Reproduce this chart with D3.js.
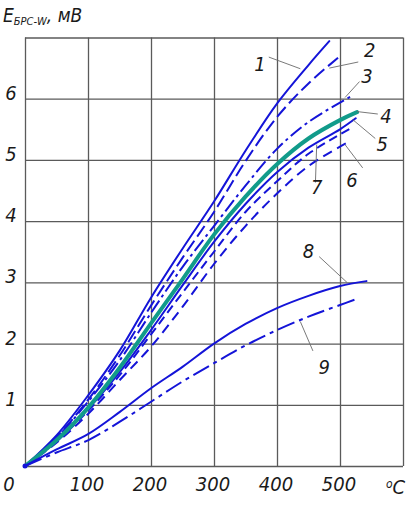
<!doctype html>
<html lang="ru">
	<head>
		<meta charset="utf-8">
		<title>E БРС-W</title>
		<script src="https://d3js.org/d3.v7.min.js"></script>
		<style>
			body { margin: 0; background: #fff; }
			text {
				font-family: 'Liberation Sans Narrow', 'DejaVu Sans Condensed', sans-serif;
				font-style: italic;
				fill: #1a1a1a;
			}
			.grid line, .grid path { stroke: #5a5a5a; stroke-width: 1.3; }
			.leader { stroke: #6a6a6a; stroke-width: 0.9; fill: none; }
		</style>
	</head>
	<body>
		<div id="chart"></div>
		<script>
			// temperature, degC
			let xTicks = [100, 200, 300, 400, 500]
			let yTicks = [1, 2, 3, 4, 5, 6]

			// curves: [T, E]
			let curve1 = [[0,0],[50,0.5],[100,1.15],[150,1.88],[200,2.75],[250,3.55],[300,4.32],[350,5.15],[400,5.92],[450,6.55],[483,6.94]]
			let curve2 = [[0,0],[50,0.47],[100,1.08],[150,1.8],[200,2.62],[250,3.4],[300,4.15],[350,4.98],[400,5.7],[450,6.25],[503,6.72]]
			let curve3 = [[0,0],[50,0.46],[100,1.05],[150,1.72],[200,2.5],[250,3.25],[300,3.92],[350,4.58],[400,5.18],[450,5.62],[516,6.03]]
			let curve4 = [[0,0],[50,0.42],[100,0.95],[150,1.6],[200,2.33],[250,3.05],[300,3.78],[350,4.4],[400,4.93],[450,5.35],[500,5.65],[527,5.78]]
			let curve5 = [[0,0],[50,0.42],[100,0.93],[150,1.53],[200,2.22],[250,2.95],[300,3.66],[350,4.28],[400,4.8],[450,5.2],[500,5.5],[525,5.68]]
			let curve6 = [[0,0],[50,0.38],[100,0.85],[150,1.4],[200,1.95],[250,2.6],[300,3.3],[350,3.92],[400,4.45],[450,4.9],[511,5.28]]
			let curve7 = [[0,0],[50,0.4],[100,0.9],[150,1.48],[200,2.15],[250,2.83],[300,3.5],[350,4.15],[400,4.65],[450,5.1],[521,5.54]]
			let curve8 = [[0,0],[50,0.27],[100,0.52],[150,0.88],[200,1.27],[250,1.62],[300,2.0],[350,2.32],[400,2.58],[450,2.78],[500,2.94],[542,3.02]]
			let curve9 = [[0,0],[50,0.22],[100,0.42],[150,0.72],[200,1.05],[250,1.38],[300,1.68],[350,1.97],[400,2.22],[450,2.44],[500,2.63],[527,2.73]]

			// curve number labels: text, label point [T, E], leader end on curve [T, E]
			let labelNames = ['1', '2', '3', '4', '5', '6', '7', '8', '9']
			let labelAt = [[373,6.45],[547,6.68],[543,6.25],[573,5.6],[567,5.15],[519,4.55],[463,4.45],[450,3.4],[475,1.5]]
			let leaderFrom = [[387,6.68],[529,6.6],[531,6.28],[560,5.75],[556,5.35],[536,4.87],[461,4.63],[467,3.42],[457,1.88]]
			let leaderTo = [[437,6.49],[483,6.5],[508,6.02],[527,5.79],[520,5.66],[508,5.25],[463,5.25],[511,3.0],[437,2.36]]

			let blue = '#1414d8'
			let teal = '#119b8a'

			let series = [
				{ data: curve1, color: blue, width: 2, dash: null },
				{ data: curve2, color: blue, width: 2, dash: '13,5' },
				{ data: curve3, color: blue, width: 2, dash: '14,4,3,4' },
				{ data: curve7, color: blue, width: 2, dash: '9,5' },
				{ data: curve6, color: blue, width: 2, dash: '10,6' },
				{ data: curve5, color: blue, width: 2, dash: null },
				{ data: curve4, color: teal, width: 4, dash: null },
				{ data: curve8, color: blue, width: 2, dash: null },
				{ data: curve9, color: blue, width: 2, dash: '18,5,4,5' },
			]

			let width = 410
			let height = 508

			let x = d3.scaleLinear().domain([0, 600]).range([25, 403])
			let y = d3.scaleLinear().domain([0, 7]).range([466, 37.5])

			let svg = d3.select('#chart')
				.append('svg')
				.attr('width', width)
				.attr('height', height)

			// grid + frame
			svg.append('g')
				.attr('class', 'grid')
				.attr('transform', `translate(0,${y(0)})`)
				.call(d3.axisBottom(x).tickValues([0, ...xTicks, 600]).tickSize(-(y(0) - y(7))).tickFormat(''))
				.call(g => g.select('.domain').remove())
			svg.append('g')
				.attr('class', 'grid')
				.attr('transform', `translate(${x(0)},0)`)
				.call(d3.axisLeft(y).tickValues([0, ...yTicks, 7]).tickSize(-(x(600) - x(0))).tickFormat(''))
				.call(g => g.select('.domain').remove())

			let line = d3.line()
				.x(d => x(d[0]))
				.y(d => y(d[1]))
				.curve(d3.curveCatmullRom.alpha(0.5))

			svg.append('g')
				.selectAll('path')
				.data(series)
				.enter().append('path')
					.attr('d', d => line(d.data))
					.attr('fill', 'none')
					.attr('stroke', d => d.color)
					.attr('stroke-width', d => d.width)
					.attr('stroke-dasharray', d => d.dash)
					.attr('stroke-linecap', d => d.dash ? 'butt' : 'round')

			svg.append('circle')
				.attr('cx', x(0))
				.attr('cy', y(0))
				.attr('r', 2.5)
				.attr('fill', blue)

			// leaders
			svg.append('g')
				.selectAll('line')
				.data(labelNames)
				.enter().append('line')
					.attr('class', 'leader')
					.attr('x1', (d, i) => x(leaderFrom[i][0]))
					.attr('y1', (d, i) => y(leaderFrom[i][1]))
					.attr('x2', (d, i) => x(leaderTo[i][0]))
					.attr('y2', (d, i) => y(leaderTo[i][1]))

			svg.append('g')
				.selectAll('text')
				.data(labelNames)
				.enter().append('text')
					.attr('x', (d, i) => x(labelAt[i][0]))
					.attr('y', (d, i) => y(labelAt[i][1]))
					.attr('text-anchor', 'middle')
					.style('font-size', '20px')
					.text(d => d)

			// tick labels
			svg.append('g')
				.selectAll('text')
				.data(yTicks)
				.enter().append('text')
					.attr('x', 11)
					.attr('y', d => y(d) + 1)
					.attr('text-anchor', 'middle')
					.style('font-size', '20px')
					.text(d => d)

			svg.append('g')
				.selectAll('text')
				.data(xTicks)
				.enter().append('text')
					.attr('x', d => x(d) - 1)
					.attr('y', 491)
					.attr('text-anchor', 'middle')
					.style('font-size', '20px')
					.text(d => d)

			svg.append('text')
				.attr('x', 9)
				.attr('y', 491)
				.attr('text-anchor', 'middle')
				.style('font-size', '20px')
				.text('0')

			let unit = svg.append('text')
				.attr('x', 386)
				.attr('y', 494)
				.style('font-size', '20px')
			unit.append('tspan').attr('dy', -6).style('font-size', '12px').text('o')
			unit.append('tspan').attr('dy', 6).text('C')

			// axis title
			let title = svg.append('text')
				.attr('x', 3)
				.attr('y', 22)
				.style('font-size', '19px')
			title.append('tspan').text('E')
			title.append('tspan').attr('dy', 3).style('font-size', '11px').text('БРС-W')
			title.append('tspan').attr('dy', -3).text(', мВ')
		</script>
	</body>
</html>
